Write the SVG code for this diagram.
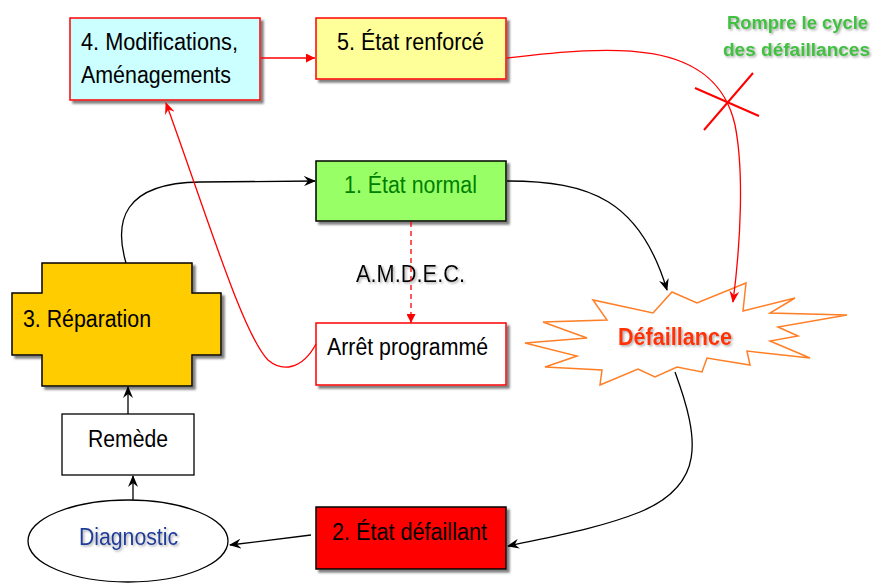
<svg xmlns="http://www.w3.org/2000/svg" width="876" height="583" viewBox="0 0 876 583">
  <defs>
    <filter id="shadow" x="-10%" y="-10%" width="130%" height="140%">
      <feDropShadow dx="3" dy="3" stdDeviation="1" flood-color="#555" flood-opacity="0.75"/>
    </filter>
    <filter id="tshadow" x="-5%" y="-30%" width="110%" height="170%">
      <feDropShadow dx="1.5" dy="1.5" stdDeviation="0.8" flood-color="#888" flood-opacity="0.7"/>
    </filter>
    <marker id="stealth-black" viewBox="0 0 12 10" refX="11" refY="5" markerWidth="12" markerHeight="10" markerUnits="userSpaceOnUse" orient="auto">
      <path d="M0,0 L12,5 L0,10 L4,5 z" fill="#000"/>
    </marker>
    <marker id="stealth-red" viewBox="0 0 12 10" refX="11" refY="5" markerWidth="12" markerHeight="10" markerUnits="userSpaceOnUse" orient="auto">
      <path d="M0,0 L12,5 L0,10 L4,5 z" fill="#f00"/>
    </marker>
    <marker id="tri-red" viewBox="0 0 10 10" refX="10" refY="5" markerWidth="9" markerHeight="9" markerUnits="userSpaceOnUse" orient="auto">
      <path d="M0,0 L10,5 L0,10 z" fill="#f00"/>
    </marker>
  </defs>
  <style>
    text { font-family: "Liberation Sans", Arial, sans-serif; font-size: 23px; fill: #000; }
    .box { stroke-width: 1.5; filter: url(#shadow); }
    .red { stroke: #f00; }
    .blk { stroke: #000; }
    .conn-black { fill: none; stroke: #000; stroke-width: 1.3; }
    .conn-red { fill: none; stroke: #f00; stroke-width: 1.3; }
    .green { fill: #3fc23f; font-weight: bold; font-size: 18px; }
  </style>

  <rect width="876" height="583" fill="#fff"/>

  <!-- 4. Modifications, Aménagements -->
  <g id="node-modifications">
    <rect x="70" y="18" width="190" height="82" fill="#ccffff" class="box red"/>
    <text x="81" y="50" textLength="157" lengthAdjust="spacingAndGlyphs">4. Modifications,</text>
    <text x="81" y="83" textLength="150" lengthAdjust="spacingAndGlyphs">Aménagements</text>
  </g>

  <!-- 5. État renforcé -->
  <g id="node-renforce">
    <rect x="316" y="18" width="190" height="61" fill="#ffff99" class="box red"/>
    <text x="337" y="50" textLength="147" lengthAdjust="spacingAndGlyphs">5. État renforcé</text>
  </g>

  <!-- 1. État normal -->
  <g id="node-normal">
    <rect x="316" y="161" width="190" height="60" fill="#99ff66" class="box blk"/>
    <text x="344" y="193" textLength="133" lengthAdjust="spacingAndGlyphs" style="fill:#008000">1. État normal</text>
  </g>

  <!-- A.M.D.E.C. label -->
  <g id="label-amdec">
    <text x="356" y="282" textLength="109" lengthAdjust="spacingAndGlyphs" filter="url(#tshadow)">A.M.D.E.C.</text>
  </g>

  <!-- Arrêt programmé -->
  <g id="node-arret">
    <rect x="316" y="323" width="190" height="62" fill="#fff" class="box red"/>
    <text x="327" y="355" textLength="161" lengthAdjust="spacingAndGlyphs">Arrêt programmé</text>
  </g>

  <!-- 3. Réparation -->
  <g id="node-reparation">
    <path d="M42,263 H192 V293 H221 V355 H192 V386 H42 V355 H12 V293 H42 Z" fill="#ffcc00" class="box blk"/>
    <text x="23" y="327" textLength="128" lengthAdjust="spacingAndGlyphs">3. Réparation</text>
  </g>

  <!-- Remède -->
  <g id="node-remede">
    <rect x="62" y="414" width="132" height="61" fill="#fff" stroke="#000" stroke-width="1.3"/>
    <text x="88" y="447" textLength="80" lengthAdjust="spacingAndGlyphs">Remède</text>
  </g>

  <!-- Diagnostic -->
  <g id="node-diagnostic">
    <ellipse cx="128" cy="541" rx="100" ry="41" fill="#fff" stroke="#000" stroke-width="1.3"/>
    <text x="79" y="545" textLength="99" lengthAdjust="spacingAndGlyphs" style="fill:#1a3c9c" filter="url(#tshadow)">Diagnostic</text>
  </g>

  <!-- 2. État défaillant -->
  <g id="node-defaillant">
    <rect x="316" y="507" width="190" height="62" fill="#ff0000" class="box blk"/>
    <text x="332" y="540" textLength="155" lengthAdjust="spacingAndGlyphs">2. État défaillant</text>
  </g>

  <!-- Défaillance (burst) -->
  <g id="node-defaillance">
    <polygon points="672,292 697,303 746,283 743,311 795,298 770,313 847,315 778,327 798,336 770,341 810,358 747,351 750,365 707,358 702,372 677,367 655,377 638,369 600,385 602,370 545,367 577,356 525,343 587,338 543,322 607,320 593,300 653,313" fill="#fff" stroke="#ff7f27" stroke-width="1.5"/>
    <text x="618" y="345" textLength="114" lengthAdjust="spacingAndGlyphs" style="fill:#ff3300;font-weight:bold;font-size:24px" filter="url(#tshadow)">Défaillance</text>
  </g>

  <!-- Rompre le cycle des défaillances -->
  <g id="label-rompre">
    <text x="727" y="29" textLength="141" lengthAdjust="spacingAndGlyphs" class="green" filter="url(#tshadow)">Rompre le cycle</text>
    <text x="723" y="56" textLength="147" lengthAdjust="spacingAndGlyphs" class="green" filter="url(#tshadow)">des défaillances</text>
  </g>

  <!-- connectors -->
  <g id="connectors">
    <!-- 4 -> 5 -->
    <line x1="261" y1="58" x2="315" y2="58" class="conn-red" marker-end="url(#tri-red)"/>
    <!-- 5 -> Défaillance (cycle to break) -->
    <path d="M507,58 C610,46 715,36 735,125 C744,170 741,240 733,302" class="conn-red" marker-end="url(#stealth-red)"/>
    <!-- cross on the red link -->
    <line x1="695" y1="88" x2="759" y2="116" stroke="#f00" stroke-width="2"/>
    <line x1="753" y1="73" x2="704" y2="130" stroke="#f00" stroke-width="2"/>
    <!-- 1 -> Défaillance -->
    <path d="M507,181 C590,181 640,200 667,290" class="conn-black" marker-end="url(#stealth-black)"/>
    <!-- Défaillance -> 2 -->
    <path d="M675,372 C700,440 705,485 640,512 C600,528 555,536 508,546" class="conn-black" marker-end="url(#stealth-black)"/>
    <!-- 2 -> Diagnostic -->
    <line x1="311" y1="535" x2="230" y2="545" class="conn-black" marker-end="url(#stealth-black)"/>
    <!-- Diagnostic -> Remède -->
    <line x1="133" y1="500" x2="133" y2="476" class="conn-black" marker-end="url(#stealth-black)"/>
    <!-- Remède -> Réparation -->
    <line x1="128" y1="414" x2="128" y2="387" class="conn-black" marker-end="url(#stealth-black)"/>
    <!-- Réparation -> 1 -->
    <path d="M126,263 C114,222 122,183 200,182 L315,181" class="conn-black" marker-end="url(#stealth-black)"/>
    <!-- 1 -> Arrêt programmé (A.M.D.E.C.) -->
    <line x1="411" y1="222" x2="411" y2="323" stroke="#f00" stroke-width="1.3" stroke-dasharray="5,4" marker-end="url(#tri-red)"/>
    <!-- Arrêt programmé -> 4 -->
    <path d="M316,344 C302,370 282,372 268,360 C243,335 205,210 166,103" class="conn-red" marker-end="url(#stealth-red)"/>
  </g>
</svg>
